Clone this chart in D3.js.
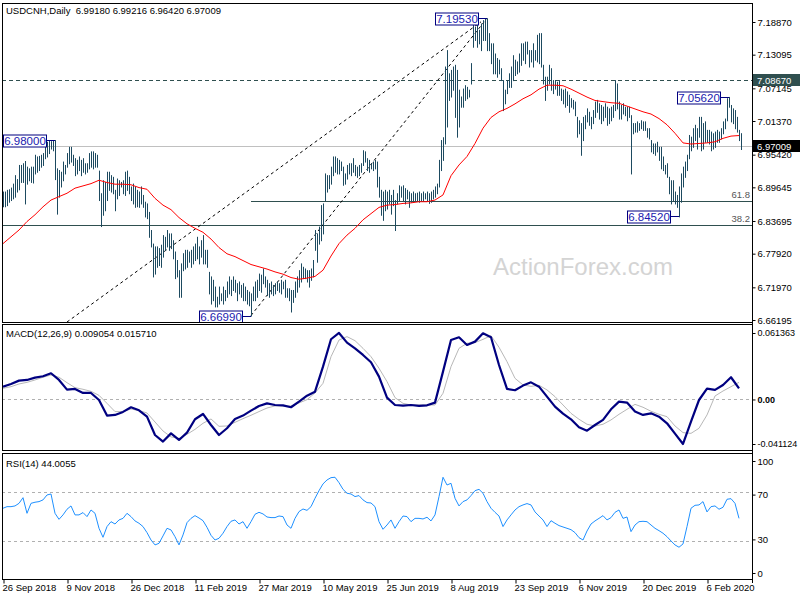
<!DOCTYPE html>
<html><head><meta charset="utf-8">
<script src="https://cdn.jsdelivr.net/npm/d3@7"></script>
<style>body{margin:0;background:#fff}svg{display:block}text{font-family:"Liberation Sans",Arial,sans-serif}</style>
</head><body><svg id="c" width="800" height="600"></svg>
<script>
const highs = [6.889,6.889,6.892,6.893,6.896,6.903,6.918,6.911,6.936,6.936,
6.939,6.943,6.933,6.930,6.933,6.933,6.954,6.951,6.952,6.954,
6.957,6.974,6.977,6.979,6.978,6.979,6.980,6.930,6.927,6.924,
6.942,6.936,6.957,6.968,6.968,6.954,6.948,6.945,6.951,6.945,
6.948,6.939,6.939,6.957,6.960,6.960,6.957,6.954,6.926,6.886,
6.909,6.906,6.924,6.924,6.918,6.915,6.892,6.912,6.909,6.906,
6.909,6.924,6.926,6.915,6.898,6.903,6.898,6.892,6.889,6.898,
6.883,6.871,6.868,6.853,6.821,6.797,6.792,6.792,6.789,6.795,
6.812,6.809,6.821,6.815,6.815,6.803,6.783,6.768,6.750,6.762,
6.780,6.786,6.786,6.783,6.786,6.792,6.797,6.809,6.792,6.803,
6.812,6.786,6.786,6.747,6.739,6.733,6.721,6.703,6.721,6.709,
6.721,6.715,6.730,6.739,6.733,6.739,6.733,6.727,6.730,6.724,
6.727,6.721,6.715,6.712,6.709,6.721,6.730,6.733,6.744,6.742,
6.753,6.739,6.733,6.727,6.730,6.724,6.727,6.730,6.727,6.733,
6.730,6.733,6.718,6.718,6.715,6.715,6.730,6.739,6.750,6.762,
6.756,6.753,6.750,6.750,6.753,6.768,6.821,6.815,6.827,6.865,
6.868,6.921,6.918,6.918,6.933,6.951,6.951,6.948,6.945,6.942,
6.933,6.921,6.936,6.939,6.939,6.948,6.936,6.933,6.936,6.939,
6.962,6.960,6.948,6.945,6.939,6.942,6.945,6.942,6.915,6.892,
6.889,6.892,6.889,6.892,6.883,6.892,6.874,6.886,6.900,6.898,
6.900,6.895,6.892,6.889,6.886,6.889,6.886,6.887,6.889,6.886,
6.889,6.886,6.889,6.886,6.889,6.892,6.898,6.903,6.945,6.980,
6.985,7.110,7.139,7.098,7.104,7.110,7.113,7.104,7.069,7.057,
7.071,7.077,7.074,7.069,7.116,7.186,7.180,7.192,7.175,7.186,
7.192,7.195,7.1953,7.169,7.151,7.151,7.133,7.125,7.122,7.107,
7.086,7.069,7.086,7.098,7.110,7.130,7.122,7.119,7.133,7.151,
7.151,7.154,7.154,7.139,7.139,7.151,7.139,7.166,7.169,7.169,
7.113,7.092,7.092,7.113,7.107,7.086,7.086,7.083,7.086,7.071,
7.069,7.071,7.066,7.060,7.054,7.051,7.048,7.021,7.015,7.010,
7.021,7.024,7.036,7.030,7.021,7.033,7.048,7.051,7.045,7.042,
7.039,7.045,7.039,7.036,7.039,7.042,7.086,7.080,7.048,7.042,
7.045,7.039,7.039,7.039,7.024,7.010,7.010,7.013,7.010,7.015,
7.013,7.013,7.001,7.001,6.980,6.974,6.974,6.977,6.968,6.968,
6.951,6.936,6.939,6.915,6.909,6.909,6.889,6.883,6.898,6.921,
6.933,6.942,6.954,6.989,6.986,7.001,7.007,7.001,7.021,7.021,
7.010,7.013,6.998,6.998,6.995,6.992,6.995,6.998,6.995,7.001,
7.013,7.018,7.054,7.0562,7.042,7.036,7.033,7.021,6.998,6.99216];
const lows = [6.863,6.863,6.865,6.871,6.874,6.877,6.880,6.889,6.893,6.906,
6.906,6.868,6.903,6.909,6.906,6.905,6.921,6.924,6.927,6.933,
6.936,6.948,6.951,6.957,6.965,6.962,6.911,6.850,6.880,6.898,
6.909,6.921,6.933,6.939,6.942,6.936,6.918,6.921,6.927,6.918,
6.924,6.921,6.924,6.930,6.933,6.930,6.933,6.933,6.874,6.828,
6.848,6.856,6.874,6.892,6.889,6.886,6.856,6.877,6.883,6.898,
6.886,6.883,6.892,6.886,6.874,6.868,6.862,6.863,6.862,6.868,
6.862,6.845,6.842,6.809,6.792,6.739,6.744,6.756,6.759,6.756,
6.774,6.786,6.792,6.786,6.789,6.771,6.736,6.739,6.703,6.703,
6.750,6.753,6.756,6.765,6.756,6.762,6.768,6.771,6.762,6.774,
6.762,6.762,6.756,6.709,6.691,6.697,6.686,6.686,6.691,6.697,
6.691,6.697,6.703,6.709,6.706,6.715,6.712,6.697,6.709,6.703,
6.697,6.697,6.691,6.688,6.6699,6.697,6.697,6.703,6.715,6.712,
6.727,6.721,6.706,6.703,6.709,6.706,6.709,6.715,6.712,6.709,
6.718,6.703,6.703,6.697,6.677,6.694,6.703,6.712,6.721,6.730,
6.736,6.736,6.730,6.721,6.733,6.739,6.786,6.765,6.797,6.803,
6.815,6.874,6.889,6.895,6.903,6.918,6.924,6.921,6.921,6.927,
6.901,6.903,6.912,6.921,6.918,6.924,6.918,6.915,6.918,6.924,
6.936,6.942,6.927,6.924,6.930,6.927,6.930,6.898,6.880,6.848,
6.839,6.856,6.859,6.868,6.850,6.865,6.821,6.868,6.874,6.880,
6.874,6.868,6.877,6.862,6.871,6.874,6.874,6.874,6.871,6.874,
6.874,6.877,6.874,6.869,6.871,6.877,6.880,6.886,6.898,6.927,
6.945,6.974,7.004,7.051,7.057,7.069,7.021,6.986,7.004,7.039,
7.039,7.051,7.054,7.057,7.080,7.145,7.157,7.145,7.151,7.139,
7.157,7.157,7.139,7.139,7.116,7.098,7.098,7.092,7.098,7.086,
7.033,7.045,7.063,7.074,7.074,7.086,7.095,7.098,7.101,7.113,
7.122,7.116,7.133,7.110,7.119,7.110,7.122,7.119,7.116,7.110,
7.080,7.051,7.069,7.080,7.069,7.063,7.071,7.060,7.060,7.051,
7.045,7.039,7.042,7.030,7.039,7.036,7.024,6.986,6.992,6.954,
6.980,7.001,7.013,7.007,7.001,7.010,7.021,7.030,7.018,7.010,
7.015,7.021,7.007,7.010,7.015,7.021,7.033,7.036,7.018,7.018,
7.027,7.024,7.015,7.021,6.921,6.992,6.995,6.995,6.998,7.001,
6.998,6.998,6.986,6.983,6.960,6.957,6.954,6.960,6.945,6.930,
6.927,6.921,6.915,6.886,6.868,6.874,6.868,6.862,6.8452,6.871,
6.898,6.915,6.927,6.948,6.962,6.968,6.980,6.965,6.986,6.962,
6.965,6.977,6.977,6.974,6.962,6.965,6.968,6.977,6.977,6.983,
6.992,7.001,7.015,7.039,7.013,7.010,7.001,6.995,6.980,6.9642];
// MA / MACD series sampled every 4 bars, RSI every 2 bars
const sampleStep = 4;
const rsiStep = 2;
const ma = [6.797,6.809,6.821,6.836,6.848,6.862,6.874,6.880,6.886,6.895,6.899,6.903,6.909,6.905,6.902,6.902,6.901,6.896,6.893,6.877,6.865,6.857,6.843,6.832,
6.824,6.817,6.805,6.790,6.779,6.774,6.767,6.760,6.756,6.752,6.747,6.743,6.737,6.734,6.736,6.739,6.750,6.775,6.797,6.812,6.824,6.839,6.850,
6.861,6.865,6.866,6.868,6.869,6.871,6.871,6.874,6.883,6.917,6.936,6.951,6.974,7.001,7.020,7.030,7.036,7.044,7.053,7.060,7.070,7.077,7.077,
7.076,7.070,7.063,7.056,7.050,7.048,7.046,7.045,7.040,7.035,7.030,7.026,7.018,7.007,6.992,6.975,6.973,6.974,6.975,6.977,6.983,6.987,6.988];
const macd = [0.0118,0.0143,0.0174,0.0180,0.0202,0.0214,0.0242,0.0180,0.0091,0.0097,
0.0060,0.0060,-0.0005,-0.0149,-0.0143,-0.0115,-0.0072,-0.0100,-0.0159,-0.0328,
-0.0389,-0.0313,-0.0374,-0.0306,-0.0183,-0.0134,-0.0236,-0.0328,-0.0266,-0.0180,
-0.0149,-0.0103,-0.0060,-0.0036,-0.0051,-0.0054,-0.0072,-0.0020,0.0035,0.0072,
0.0303,0.0556,0.0614,0.0525,0.0472,0.0411,0.0343,0.0211,0.0017,-0.0051,
-0.0057,-0.0051,-0.0060,-0.0054,-0.0029,0.0257,0.0549,0.0574,0.0503,0.0534,
0.0611,0.0574,0.0318,0.0097,0.0085,0.0128,0.0158,0.0118,0.0026,-0.0066,
-0.0131,-0.0183,-0.0257,-0.0288,-0.0236,-0.0189,-0.0091,-0.0020,-0.0029,-0.0112,
-0.0143,-0.0128,-0.0159,-0.0220,-0.0316,-0.0411,-0.0205,-0.0005,0.0100,0.0088,
0.0134,0.0205,0.0103];
const signal = [0.0103,0.0118,0.0143,0.0158,0.0180,0.0205,0.0226,0.0205,0.0155,0.0109,
0.0094,0.0075,0.0038,-0.0036,-0.0112,-0.0112,-0.0088,-0.0103,-0.0125,-0.0208,
-0.0291,-0.0346,-0.0359,-0.0322,-0.0276,-0.0220,-0.0180,-0.0248,-0.0245,-0.0211,
-0.0177,-0.0146,-0.0112,-0.0079,-0.0060,-0.0060,-0.0060,-0.0032,-0.0002,0.0060,
0.0149,0.0395,0.0549,0.0580,0.0543,0.0472,0.0395,0.0288,0.0165,0.0017,
-0.0036,-0.0051,-0.0051,-0.0051,-0.0051,0.0057,0.0303,0.0472,0.0519,0.0525,
0.0555,0.0589,0.0482,0.0349,0.0195,0.0134,0.0121,0.0131,0.0088,0.0026,
-0.0051,-0.0128,-0.0183,-0.0229,-0.0245,-0.0229,-0.0189,-0.0137,-0.0091,-0.0045,
-0.0072,-0.0109,-0.0137,-0.0159,-0.0245,-0.0306,-0.0313,-0.0266,-0.0143,0.0032,
0.0078,0.0118,0.0158];
const rsi = [56.7,58.0,58.0,58.6,60.7,65.3,52.6,60.7,61.6,62.1,
63.5,67.5,68.3,52.6,47.7,51.3,55.9,58.6,51.3,51.3,
53.2,49.9,55.3,52.6,40.4,33.1,41.8,45.8,43.9,47.2,
48.5,52.6,49.9,46.4,44.5,41.8,36.9,30.9,26.9,28.2,
34.2,40.4,39.1,33.6,26.9,35.0,45.0,48.5,50.7,48.8,
46.6,41.2,34.7,30.9,32.3,36.4,41.8,46.1,47.2,43.9,
45.8,40.4,45.8,51.8,53.4,52.1,49.6,49.1,49.1,50.4,
49.9,43.1,40.4,48.5,54.0,56.1,55.0,58.0,64.8,71.0,
76.5,79.7,81.6,81.9,77.5,72.1,68.9,68.3,66.2,67.0,
63.5,61.3,61.0,58.0,45.8,39.6,43.1,47.2,40.4,45.8,
50.4,49.9,45.8,48.5,48.5,48.0,49.4,46.4,51.3,66.2,
81.9,75.6,77.0,64.8,58.6,62.1,63.5,67.0,71.0,72.1,
68.9,62.1,56.7,53.4,50.4,41.8,47.2,51.3,55.3,58.0,
59.4,60.5,59.4,53.7,50.4,47.2,41.8,46.6,44.5,42.6,
41.5,40.4,39.3,36.9,32.8,30.9,38.2,43.9,46.4,48.5,
50.7,47.2,49.1,53.4,55.3,48.5,49.6,37.7,43.1,45.8,
46.1,45.8,43.1,40.4,38.5,36.4,33.6,30.1,26.9,25.0,
27.7,41.8,56.7,59.1,59.4,62.1,53.7,58.0,58.6,55.9,
57.5,64.0,64.5,60.7,48.5];
const tickLabels = ['26 Sep 2018','9 Nov 2018','26 Dec 2018','11 Feb 2019','27 Mar 2019','10 May 2019','25 Jun 2019','8 Aug 2019','23 Sep 2019','6 Nov 2019','20 Dec 2019','6 Feb 2020'];
const tickStep = 32;
const priceTicks = [7.18870,7.13095,7.07145,7.01370,6.95420,6.89645,6.83695,6.77920,6.71970,6.66195];
const macdTicks = [0.061363,0,-0.041124];
const macdTickText = ['0.061363','0.00','-0.041124'];
const rsiTicks = [100,70,30,0];
const rsiLevels = [70,30];
const annIndex = [26,242,124,363,338];
const annPrice = [6.98000,7.19530,6.66990,7.05620,6.84520];
const fibPrice = [6.8723,6.8299];
const fibLabel = ['61.8','38.2'];
const fibStart = [124,0];
const trendFrom = [[32,6.6584],[124,6.6699]];
const trendTo = [[239,7.1890],[242,7.1953]];
const hLinePrice = 7.08670;
const lastClose = 6.97009;
const header = 'USDCNH,Daily  6.99180 6.99216 6.96420 6.97009';
const macdHeader = 'MACD(12,26,9) 0.009054 0.015710';
const rsiHeader = 'RSI(14) 44.0055';

const FS = 9.5;
const svg = d3.select('#c');
const L = 2, R = 752;
const main = {t:3,b:322}, mp = {t:324,b:450}, rp = {t:453,b:579};
const x = d3.scaleLinear().domain([0, highs.length-1]).range([3, 741]);
const yP = d3.scaleLinear().domain([6.66195, 7.18870]).range([320, 22]);
const yM = d3.scaleLinear().domain([-0.041124, 0.061363]).range([444, 333]);
const yR = d3.scaleLinear().domain([0, 100]).range([578, 455]);
const px = v => Math.round(v) + 0.5;

const defs = svg.append('defs');
[['cm',main],['cmp',mp],['crp',rp]].forEach(([id,p])=>{
  defs.append('clipPath').attr('id',id).append('rect').attr('x',L+1).attr('y',p.t+1).attr('width',R-L-1).attr('height',p.b-p.t-1);
});

// watermark
svg.append('text').attr('x',583).attr('y',275).attr('text-anchor','middle').attr('font-size',24).attr('fill','#d4d4d4').text('ActionForex.com');

// main pane
const gm = svg.append('g').attr('clip-path','url(#cm)');
fibPrice.forEach((p,k)=>{
  gm.append('line').attr('x1',x(fibStart[k])).attr('x2',R).attr('y1',px(yP(p))).attr('y2',px(yP(p))).attr('stroke','#2f4f4f').attr('stroke-width',1);
  gm.append('text').attr('x',R-2).attr('y',yP(p)-3).attr('text-anchor','end').attr('font-size',FS).attr('fill','#555').text(fibLabel[k]);
});
gm.append('line').attr('x1',L).attr('x2',R).attr('y1',px(yP(hLinePrice))).attr('y2',px(yP(hLinePrice))).attr('stroke','#2f4f4f').attr('stroke-dasharray','4,3');
gm.append('line').attr('x1',L).attr('x2',R).attr('y1',px(yP(lastClose))).attr('y2',px(yP(lastClose))).attr('stroke','#c0c0c0');
trendFrom.forEach((f,k)=>{
  const t = trendTo[k];
  gm.append('line').attr('x1',x(f[0])).attr('y1',yP(f[1])).attr('x2',x(t[0])).attr('y2',yP(t[1])).attr('stroke','#000').attr('stroke-dasharray','3,3');
});
gm.selectAll('line.bar').data(highs).join('line').attr('class','bar')
  .attr('x1',(d,i)=>px(x(i))).attr('x2',(d,i)=>px(x(i)))
  .attr('y1',d=>yP(d)).attr('y2',(d,i)=>yP(lows[i])+1)
  .attr('stroke','#1d4a60').attr('stroke-width',1);
const lineMA = d3.line().x((d,i)=>x(i*sampleStep)).y(d=>yP(d));
gm.append('path').attr('d',lineMA(ma)).attr('fill','none').attr('stroke','#ff0000').attr('stroke-width',1);
annIndex.forEach((bi,k)=>{
  const yy = px(yP(annPrice[k]));
  const bx = x(bi);
  const w = 43, h = 12;
  const rx = Math.round(bx - 9 - w);
  gm.append('line').attr('x1',rx+w).attr('x2',bx).attr('y1',yy).attr('y2',yy).attr('stroke','#000080');
  gm.append('rect').attr('x',rx+0.5).attr('y',Math.round(yy-h/2)).attr('width',w).attr('height',h).attr('fill','#fff').attr('stroke','#000080');
  gm.append('text').attr('x',rx+w/2+0.5).attr('y',yy+4.5).attr('text-anchor','middle').attr('font-size',11.5).attr('fill','#1a1ab0').text(annPrice[k].toFixed(5));
});
svg.append('text').attr('x',6).attr('y',14).attr('font-size',FS).attr('fill','#000').style('white-space','pre').text(header);

// MACD pane
const gmc = svg.append('g').attr('clip-path','url(#cmp)');
gmc.append('line').attr('x1',L).attr('x2',R).attr('y1',px(yM(0))).attr('y2',px(yM(0))).attr('stroke','#b0b0b0').attr('stroke-dasharray','3,3');
const lineM = d3.line().x((d,i)=>x(i*sampleStep)).y(d=>yM(d));
gmc.append('path').attr('d',lineM(signal)).attr('fill','none').attr('stroke','#b8b8b8').attr('stroke-width',1);
gmc.append('path').attr('d',lineM(macd)).attr('fill','none').attr('stroke','#000080').attr('stroke-width',2.2).attr('stroke-linejoin','round');
svg.append('text').attr('x',6).attr('y',337).attr('font-size',FS).text(macdHeader);

// RSI pane
const gr = svg.append('g').attr('clip-path','url(#crp)');
rsiLevels.forEach(v=>gr.append('line').attr('x1',L).attr('x2',R).attr('y1',px(yR(v))).attr('y2',px(yR(v))).attr('stroke','#b0b0b0').attr('stroke-dasharray','3,3'));
const lineR = d3.line().x((d,i)=>x(i*rsiStep)).y(d=>yR(d));
gr.append('path').attr('d',lineR(rsi)).attr('fill','none').attr('stroke','#1e90ff').attr('stroke-width',1);
svg.append('text').attr('x',6).attr('y',467).attr('font-size',FS).text(rsiHeader);

// frames
[main,mp,rp].forEach(p=>{
  svg.append('rect').attr('x',L+0.5).attr('y',p.t+0.5).attr('width',R-L).attr('height',p.b-p.t).attr('fill','none').attr('stroke','#000');
});

// right axes
const axP = d3.axisRight(yP).tickValues(priceTicks).tickSize(3).tickFormat(d=>d.toFixed(5));
const gaP = svg.append('g').attr('transform',`translate(${R+0.5},0)`).call(axP);
const axM = d3.axisRight(yM).tickValues(macdTicks).tickSize(3).tickFormat((d,i)=>macdTickText[i]);
const gaM = svg.append('g').attr('transform',`translate(${R+0.5},0)`).call(axM);
const yRl = d3.scaleLinear().domain([0,100]).range([573,461]);
const axR = d3.axisRight(yRl).tickValues(rsiTicks).tickSize(3).tickFormat(d=>String(d));
const gaR = svg.append('g').attr('transform',`translate(${R+0.5},0)`).call(axR);
[gaP,gaM,gaR].forEach(g=>{
  g.select('.domain').remove();
  g.selectAll('text').attr('font-size',FS).attr('font-family','"Liberation Sans",Arial,sans-serif').attr('fill','#000').attr('x',5);
  g.selectAll('line').attr('stroke','#000');
});
gaM.selectAll('text').attr('font-size',9).filter(d=>d===0).attr('font-weight','bold');
function tag(price, fill){
  const yy = Math.round(yP(price));
  svg.append('rect').attr('x',R+1).attr('y',yy-6).attr('width',48).attr('height',12).attr('fill',fill);
  svg.append('text').attr('x',R+5).attr('y',yy+3.5).attr('font-size',FS).attr('fill','#fff').text(price.toFixed(5));
}
tag(hLinePrice,'#2f4f4f');
tag(lastClose,'#000');

// x axis
const axX = d3.axisBottom(x).tickValues(tickLabels.map((t,i)=>i*tickStep)).tickSize(4).tickFormat((d,i)=>tickLabels[i]);
const gx = svg.append('g').attr('transform',`translate(0,${rp.b+0.5})`).call(axX);
gx.select('.domain').remove();
gx.selectAll('line').attr('stroke','#000').attr('transform','translate(0.5,0)');
gx.selectAll('text').attr('font-size',FS).attr('font-family','"Liberation Sans",Arial,sans-serif').attr('fill','#000').attr('text-anchor','start').attr('dx',-1).attr('y',4.5);
svg.append('line').attr('x1',R+0.5).attr('x2',R+0.5).attr('y1',main.t).attr('y2',rp.b+4).attr('stroke','#000');
</script></body></html>
